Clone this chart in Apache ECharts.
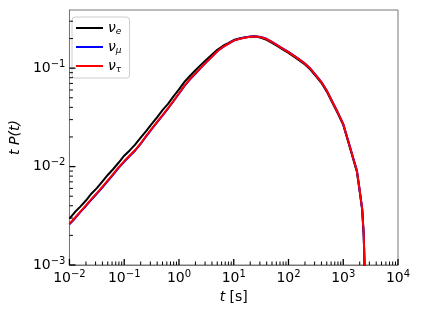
<!DOCTYPE html>
<html>
<head>
<meta charset="utf-8">
<script src="https://cdn.jsdelivr.net/npm/echarts@6/dist/echarts.min.js"></script>
<style>
html,body{margin:0;padding:0;background:#fff;}
#chart{width:421px;height:316px;}
</style>
</head>
<body>
<div id="chart"></div>
<script>
// time values t [s]
const tValues = [0.01, 0.0126, 0.0158, 0.02, 0.0251, 0.0316, 0.0398, 0.0501, 0.0631, 0.0794,
  0.1, 0.126, 0.158, 0.2, 0.251, 0.316, 0.398, 0.501, 0.631, 0.794,
  1, 1.26, 1.58, 2.0, 2.51, 3.16, 3.98, 5.01, 6.31, 7.94,
  10, 12.6, 15.8, 20, 25.1, 31.6, 39.8, 50.1, 63.1, 79.4,
  100, 126, 158, 200, 251, 316, 398, 501, 631, 794,
  1000, 1259, 1585, 1778, 1995, 2218, 2371, 2438, 2483];
// t P(t) for each flavour
const nuE = [0.00296, 0.00345, 0.00392, 0.00452, 0.00530, 0.00604, 0.00705, 0.00822, 0.00945, 0.0110,
  0.0129, 0.0146, 0.0167, 0.0197, 0.0229, 0.0270, 0.0317, 0.0375, 0.0433, 0.0516,
  0.0608, 0.0725, 0.0832, 0.0952, 0.108, 0.122, 0.137, 0.154, 0.168, 0.180,
  0.193, 0.200, 0.205, 0.209, 0.2095, 0.204, 0.194, 0.181, 0.167, 0.154,
  0.143, 0.131, 0.120, 0.109, 0.0969, 0.0829, 0.0710, 0.0578, 0.0447, 0.0347,
  0.0265, 0.0172, 0.0110, 0.0088, 0.00564, 0.00363, 0.00194, 0.00105, 0.0005];
const nuMu = [0.00259, 0.00297, 0.00344, 0.00398, 0.00460, 0.00530, 0.00613, 0.00712, 0.00831, 0.00970,
  0.01118, 0.01276, 0.01450, 0.0170, 0.0202, 0.0239, 0.0281, 0.0330, 0.0387, 0.0461,
  0.0550, 0.0657, 0.0766, 0.0878, 0.1006, 0.1146, 0.1303, 0.1485, 0.1633, 0.1762,
  0.1903, 0.1990, 0.2050, 0.2095, 0.2107, 0.2070, 0.1987, 0.1853, 0.1710, 0.1577,
  0.1464, 0.1342, 0.1229, 0.1117, 0.0992, 0.0849, 0.0727, 0.0592, 0.0458, 0.0356,
  0.0271, 0.0176, 0.0113, 0.0091, 0.00578, 0.00372, 0.00199, 0.00108, 0.0005];
const nuTau = [0.00263, 0.00302, 0.00349, 0.00404, 0.00467, 0.00538, 0.00622, 0.00723, 0.00844, 0.00985,
  0.01135, 0.01295, 0.01472, 0.0172, 0.0205, 0.0242, 0.0285, 0.0334, 0.0392, 0.0466,
  0.0556, 0.0664, 0.0773, 0.0885, 0.1013, 0.1152, 0.1308, 0.1488, 0.1635, 0.1762,
  0.1903, 0.1982, 0.2040, 0.2090, 0.2100, 0.2060, 0.1977, 0.1844, 0.1702, 0.1569,
  0.1457, 0.1335, 0.1223, 0.1111, 0.0987, 0.0845, 0.0723, 0.0589, 0.0456, 0.0354,
  0.0270, 0.0175, 0.0112, 0.0090, 0.00575, 0.0037, 0.00198, 0.00107, 0.0005];
const seriesNames = ['ν_e', 'ν_μ', 'ν_τ'];
const legendSubs = ['e', 'μ', 'τ'];
const xMin = 0.01, xMax = 10000, yMin = 0.001, yMax = 0.39;
const xMajorTicks = [0.01, 0.1, 1, 10, 100, 1000, 10000];
const yMajorTicks = [0.001, 0.01, 0.1];
const mult = [2, 3, 4, 5, 6, 7, 8, 9];
const xMinorTicks = [];
[0.01, 0.1, 1, 10, 100, 1000].forEach(d => mult.forEach(m => xMinorTicks.push(+(d * m).toPrecision(3))));
const yMinorTicks = [];
[0.001, 0.01, 0.1].forEach(d => mult.forEach(m => { const v = +(d * m).toPrecision(3); if (v <= yMax) yMinorTicks.push(v); }));

const chart = echarts.init(document.getElementById('chart'), null, {renderer: 'canvas'});

function powLabel(v) {
  const e = Math.log10(v);
  const r = Math.round(e);
  if (Math.abs(e - r) > 1e-6) return '';
  return '{b|10}{e|' + (r < 0 ? '\u2212' + (-r) : r) + '}';
}
const labelRich = {
  b: {fontSize: 14, fontFamily: 'DejaVu Sans', color: '#000', lineHeight: 18},
  e: {fontSize: 10, fontFamily: 'DejaVu Sans', color: '#000', lineHeight: 10, verticalAlign: 'top'}
};

function tickSeries(values, axis, len, lw) {
  return {
    type: 'custom',
    silent: true,
    clip: false,
    z: 5,
    data: values.map(v => [v]),
    renderItem: function (params, api) {
      const v = api.value(0);
      let p, shape;
      if (axis === 'x') {
        p = api.coord([v, yMin]);
        shape = {x1: p[0], y1: p[1], x2: p[0], y2: p[1] - len};
      } else {
        p = api.coord([xMin, v]);
        shape = {x1: p[0], y1: p[1], x2: p[0] + len, y2: p[1]};
      }
      return {type: 'line', shape: shape, style: {stroke: '#000', lineWidth: lw}};
    }
  };
}

const lineColors = ['#000000', '#0000ff', '#ff0000'];
const lineData = [nuE, nuMu, nuTau];

const option = {
  animation: false,
  backgroundColor: '#fff',
  grid: {left: 65, right: 23, top: 10, bottom: 51, show: true, borderColor: '#777', borderWidth: 1},
  legend: {
    data: seriesNames,
    orient: 'vertical',
    left: 72, top: 17,
    padding: [4, 8, 4, 4],
    itemGap: 4,
    itemWidth: 27, itemHeight: 2,
    icon: 'rect',
    backgroundColor: 'rgba(255,255,255,0.8)',
    borderColor: '#cccccc', borderWidth: 1, borderRadius: 3,
    formatter: function (name) {
      return '{n|ν}{s|' + legendSubs[seriesNames.indexOf(name)] + '}';
    },
    textStyle: {
      rich: {
        n: {fontSize: 14, fontStyle: 'italic', fontFamily: 'DejaVu Sans', color: '#000', lineHeight: 16},
        s: {fontSize: 9, fontStyle: 'italic', fontFamily: 'DejaVu Sans', color: '#000', lineHeight: 9, verticalAlign: 'bottom'}
      }
    }
  },
  xAxis: {
    type: 'log', logBase: 10, min: xMin, max: xMax,
    axisLine: {show: true, lineStyle: {color: '#777', width: 1}},
    axisTick: {show: false},
    splitLine: {show: false},
    axisLabel: {margin: 4, formatter: powLabel, rich: labelRich},
    name: '{i|t} [s]',
    nameLocation: 'middle', nameGap: 21,
    nameTextStyle: {fontSize: 14, fontFamily: 'DejaVu Sans', color: '#000',
      rich: {i: {fontSize: 14, fontStyle: 'italic', fontFamily: 'DejaVu Sans', color: '#000'}}}
  },
  yAxis: {
    type: 'log', logBase: 10, min: yMin, max: yMax,
    axisLine: {show: true, lineStyle: {color: '#777', width: 1}},
    axisTick: {show: false},
    splitLine: {show: false},
    axisLabel: {margin: 4, formatter: powLabel, rich: labelRich},
    name: 't P(t)',
    nameLocation: 'middle', nameGap: 43,
    nameTextStyle: {fontSize: 14, fontStyle: 'italic', fontFamily: 'DejaVu Sans', color: '#000'}
  },
  series: [
    ...lineData.map((arr, i) => ({
      name: seriesNames[i],
      type: 'line',
      data: tValues.map((t, k) => [t, arr[k]]),
      showSymbol: false,
      symbol: 'none',
      clip: true,
      z: 3 + i,
      lineStyle: {color: lineColors[i], width: 2},
      itemStyle: {color: lineColors[i]}
    })),
    tickSeries(xMajorTicks, 'x', 6, 1.3),
    tickSeries(xMinorTicks, 'x', 3.5, 1),
    tickSeries(yMajorTicks, 'y', 6, 1.3),
    tickSeries(yMinorTicks, 'y', 3.5, 1)
  ]
};
chart.setOption(option);
</script>
</body>
</html>
